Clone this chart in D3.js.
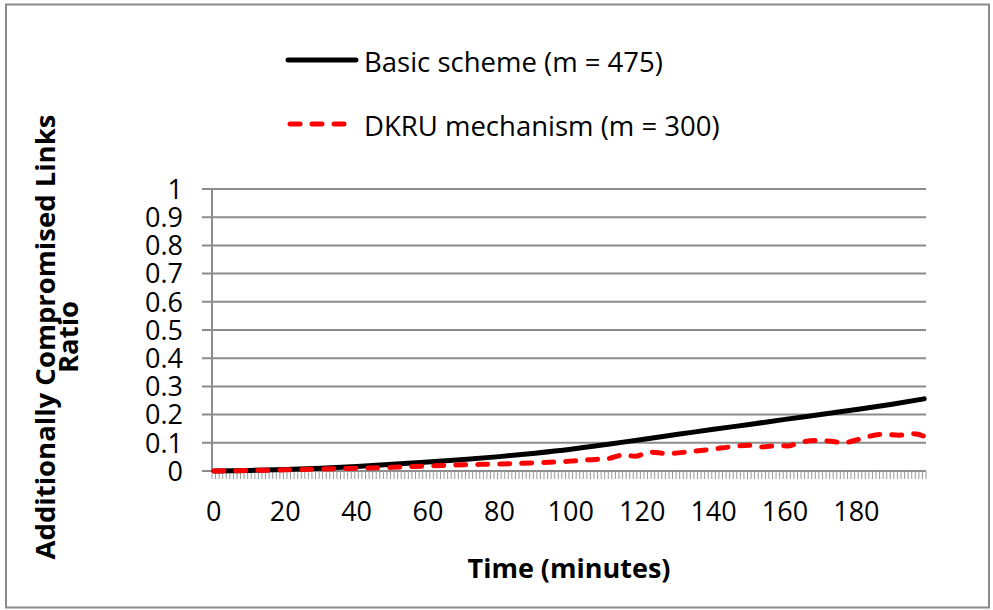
<!DOCTYPE html>
<html>
<head>
<meta charset="utf-8">
<script src="https://cdn.jsdelivr.net/npm/d3@7"></script>
<style>
  body { margin: 0; background: #fff; }
  text { font-family: "Open Sans", Lato, sans-serif; fill: #000; }
</style>
</head>
<body>
<svg id="chart" width="993" height="610"></svg>
<script>
// values
var basicMinutes = [0, 10, 20, 30, 40, 50, 60, 70, 80, 90, 100, 110, 120, 130, 140, 150, 160, 170, 180, 190, 199];
var basicRatio   = [0, 0.002, 0.005, 0.010, 0.016, 0.024, 0.032, 0.041, 0.051, 0.063, 0.077, 0.094, 0.112, 0.130, 0.148, 0.165, 0.183, 0.200, 0.218, 0.237, 0.256];

var dkruMinutes = [0, 10, 20, 30, 40, 50, 60, 70, 80, 90, 100, 105, 110, 115, 118, 122, 127, 133, 140, 145, 150, 153, 158, 161, 164, 169, 174, 176, 180, 187, 192, 196, 199];
var dkruRatio   = [0, 0.002, 0.004, 0.007, 0.010, 0.013, 0.018, 0.022, 0.025, 0.029, 0.035, 0.040, 0.043, 0.057, 0.052, 0.067, 0.062, 0.068, 0.078, 0.086, 0.091, 0.085, 0.090, 0.089, 0.101, 0.108, 0.104, 0.099, 0.110, 0.130, 0.127, 0.132, 0.123];

var xTickLabels = [0, 20, 40, 60, 80, 100, 120, 140, 160, 180];
var yTickValues = [0, 0.1, 0.2, 0.3, 0.4, 0.5, 0.6, 0.7, 0.8, 0.9, 1];
var seriesNames = ["Basic scheme (m = 475)", "DKRU mechanism (m = 300)"];

var svg = d3.select("#chart");
var plotLeft = 212, plotRight = 926, plotTop = 189, plotBottom = 471;
var gridColor = "#8c8c8c";

// outer frame
svg.append("rect")
    .attr("x", 6).attr("y", 4.5).attr("width", 983).attr("height", 603)
    .attr("fill", "none").attr("stroke", "#8a8a8a").attr("stroke-width", 2);

// 200 categories (0..199), labels sit between tick marks
var x = d3.scaleLinear().domain([-0.5, 199.5]).range([plotLeft, plotRight]);
var y = d3.scaleLinear().domain([0, 1]).range([plotBottom, plotTop]);

// horizontal gridlines + y ticks
svg.append("g").selectAll("line").data(yTickValues).enter().append("line")
    .attr("x1", plotLeft - 10).attr("x2", plotRight)
    .attr("y1", function(d) { return y(d); }).attr("y2", function(d) { return y(d); })
    .attr("stroke", gridColor).attr("stroke-width", 2);

svg.append("g").selectAll("text").data(yTickValues).enter().append("text")
    .attr("x", 183).attr("y", function(d) { return y(d); })
    .attr("dy", "0.36em").attr("text-anchor", "end")
    .style("font-size", "27px")
    .text(function(d) { return d; });

// y axis line
svg.append("line")
    .attr("x1", plotLeft).attr("x2", plotLeft).attr("y1", plotTop).attr("y2", plotBottom)
    .attr("stroke", gridColor).attr("stroke-width", 2);

// dense x ticks at category boundaries
var bounds = d3.range(0, 201).map(function(i) { return i - 0.5; });
svg.append("g").selectAll("line").data(bounds).enter().append("line")
    .attr("x1", function(d) { return x(d); }).attr("x2", function(d) { return x(d); })
    .attr("y1", plotBottom).attr("y2", plotBottom + 8)
    .attr("stroke", "#999").attr("stroke-width", 1);

svg.append("g").selectAll("text").data(xTickLabels).enter().append("text")
    .attr("x", function(d) { return x(d); }).attr("y", 521)
    .attr("text-anchor", "middle")
    .style("font-size", "27px")
    .text(function(d) { return d; });

// lines
var line = d3.line()
    .x(function(d) { return x(d[0]); })
    .y(function(d) { return y(d[1]); })
    .curve(d3.curveMonotoneX);

svg.append("path")
    .datum(d3.zip(basicMinutes, basicRatio))
    .attr("d", line)
    .attr("fill", "none").attr("stroke", "#000").attr("stroke-width", 5)
    .attr("stroke-linecap", "round");

svg.append("path")
    .datum(d3.zip(dkruMinutes, dkruRatio))
    .attr("d", line)
    .attr("fill", "none").attr("stroke", "#ff0000").attr("stroke-width", 5)
    .attr("stroke-dasharray", "10,12").attr("stroke-linecap", "round");

// legend
var legend = svg.append("g");
legend.append("line")
    .attr("x1", 288).attr("x2", 356).attr("y1", 60).attr("y2", 60)
    .attr("stroke", "#000").attr("stroke-width", 5).attr("stroke-linecap", "round");
legend.append("line")
    .attr("x1", 290).attr("x2", 350).attr("y1", 124).attr("y2", 124)
    .attr("stroke", "#ff0000").attr("stroke-width", 5)
    .attr("stroke-dasharray", "10,12").attr("stroke-linecap", "round");
legend.selectAll("text").data(seriesNames).enter().append("text")
    .attr("x", 364).attr("y", function(d, i) { return 62 + i * 64; })
    .attr("dy", "0.36em")
    .style("font-size", "27.5px")
    .text(function(d) { return d; });

// axis titles
svg.append("text")
    .attr("x", (plotLeft + plotRight) / 2).attr("y", 578)
    .attr("text-anchor", "middle")
    .style("font-size", "27px").style("font-weight", "bold")
    .text("Time (minutes)");

var yTitle = svg.append("text")
    .attr("transform", "translate(0,337) rotate(-90)")
    .attr("text-anchor", "middle")
    .style("font-size", "27.5px").style("font-weight", "bold");
yTitle.append("tspan").attr("x", 0).attr("y", 55).text("Additionally Compromised Links");
yTitle.append("tspan").attr("x", 0).attr("y", 78).text("Ratio");
</script>
</body>
</html>
